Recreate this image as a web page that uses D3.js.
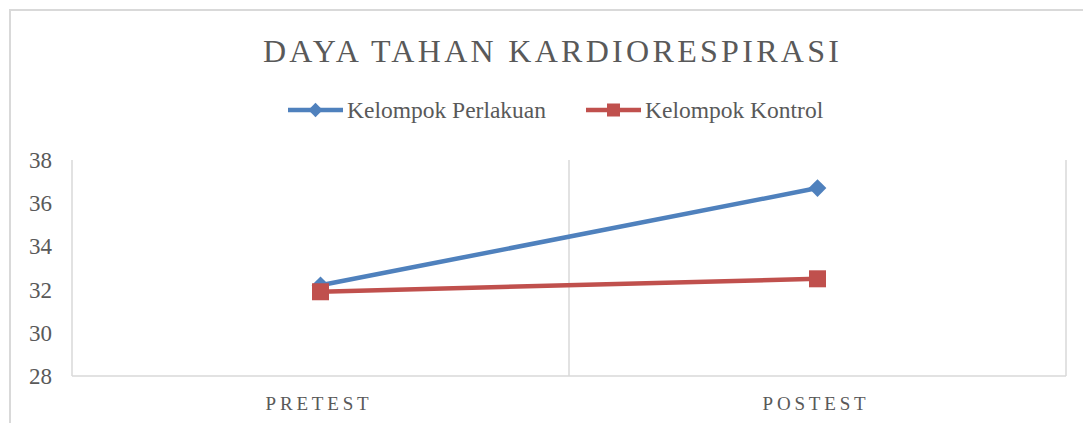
<!DOCTYPE html>
<html><head><meta charset="utf-8">
<script src="https://cdn.jsdelivr.net/npm/d3@7"></script>
<style>
html,body{margin:0;padding:0;background:#fff;}
svg{display:block;}
</style></head>
<body>
<svg id="c" width="1083" height="423"></svg>
<script>
const title = "DAYA TAHAN KARDIORESPIRASI";
const categories = ["PRETEST", "POSTEST"];
const seriesNames = ["Kelompok Perlakuan", "Kelompok Kontrol"];
const perlakuan = [32.2, 36.7];
const kontrol = [31.9, 32.5];
const yTicks = [28, 30, 32, 34, 36, 38];
const colors = ["#4f81bd", "#c0504d"];

const svg = d3.select("#c");
const m = {left: 72, right: 1066, top: 160, bottom: 376};
const TXT = "#595959";
const FONT = "Liberation Serif, Times New Roman, serif";

svg.append("rect").attr("x", 10).attr("y", 10).attr("width", 1100).attr("height", 500)
  .attr("fill", "none").attr("stroke", "#d9d9d9").attr("stroke-width", 2);

svg.append("text").attr("x", 551 + 1.6).attr("y", 62).attr("text-anchor", "middle")
  .attr("font-family", FONT).attr("fill", TXT)
  .attr("font-size", 32).attr("letter-spacing", 3.3).text(title);

const x = d3.scaleBand().domain(categories).range([m.left, m.right]);
const y = d3.scaleLinear().domain([28, 38]).range([m.bottom, m.top]);

const g = svg.append("g");
g.append("line").attr("x1", m.left).attr("x2", m.left).attr("y1", m.top).attr("y2", m.bottom)
  .attr("stroke", "#d9d9d9").attr("stroke-width", 1.5);
categories.forEach((c) => {
  const xx = x(c) + x.bandwidth();
  g.append("line").attr("x1", xx).attr("x2", xx).attr("y1", m.top).attr("y2", m.bottom)
    .attr("stroke", "#d9d9d9").attr("stroke-width", 1.5);
});
g.append("line").attr("x1", m.left).attr("x2", m.right).attr("y1", m.bottom).attr("y2", m.bottom)
  .attr("stroke", "#d9d9d9").attr("stroke-width", 1.5);

svg.append("g").selectAll("text").data(yTicks).join("text")
  .attr("x", 52).attr("y", d => y(d) + 8).attr("text-anchor", "end")
  .attr("font-family", FONT).attr("fill", TXT)
  .attr("font-size", 23).text(d => d);

svg.append("g").selectAll("text").data(categories).join("text")
  .attr("x", d => x(d) + x.bandwidth() / 2 - 1.5).attr("y", 410).attr("text-anchor", "middle")
  .attr("font-family", FONT).attr("fill", TXT)
  .attr("font-size", 19).attr("letter-spacing", 3.8).text(d => d);

const line = d3.line().x((d, i) => x(categories[i]) + x.bandwidth() / 2).y(d => y(d));
[perlakuan, kontrol].forEach((s, k) => {
  svg.append("path").attr("d", line(s)).attr("fill", "none")
    .attr("stroke", colors[k]).attr("stroke-width", 4.5).attr("stroke-linejoin", "round");
});
const diamond = d3.symbol().type(d3.symbolDiamond2).size(200);
svg.append("g").selectAll("path").data(perlakuan).join("path")
  .attr("transform", (d, i) => `translate(${x(categories[i]) + x.bandwidth() / 2},${y(d)})`)
  .attr("d", diamond).attr("fill", colors[0]);
svg.append("g").selectAll("rect").data(kontrol).join("rect")
  .attr("x", (d, i) => x(categories[i]) + x.bandwidth() / 2 - 8.5)
  .attr("y", d => y(d) - 8.5).attr("width", 17).attr("height", 17).attr("fill", colors[1]);

const leg = [
  {x1: 288, x2: 343, tx: 347},
  {x1: 586, x2: 641, tx: 645}
];
leg.forEach((l, k) => {
  const lg = svg.append("g");
  lg.append("line").attr("x1", l.x1).attr("x2", l.x2).attr("y1", 110).attr("y2", 110)
    .attr("stroke", colors[k]).attr("stroke-width", 4.5);
  const cx = (l.x1 + l.x2) / 2;
  if (k === 0) {
    lg.append("path").attr("transform", `translate(${cx},110)`)
      .attr("d", d3.symbol().type(d3.symbolDiamond2).size(130)).attr("fill", colors[0]);
  } else {
    lg.append("rect").attr("x", cx - 6.5).attr("y", 103.5).attr("width", 13).attr("height", 13)
      .attr("fill", colors[1]);
  }
  lg.append("text").attr("x", l.tx).attr("y", 118)
    .attr("font-family", FONT).attr("fill", TXT)
    .attr("font-size", 23.5).text(seriesNames[k]);
});
</script>
</body></html>
